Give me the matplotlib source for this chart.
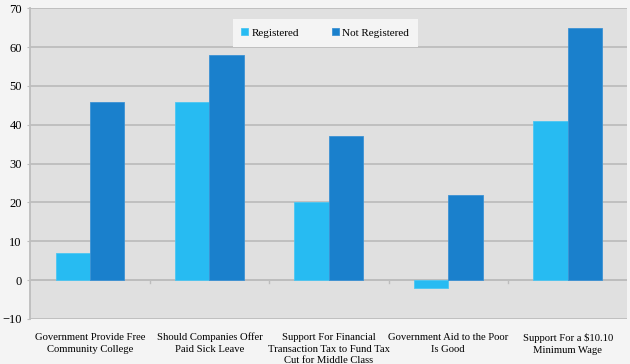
import numpy as np
import matplotlib
matplotlib.use("Agg")
import matplotlib.pyplot as plt

categories = ["Government Provide Free\nCommunity College",
              "Should Companies Offer\nPaid Sick Leave",
              "Support For Financial\nTransaction Tax to Fund Tax\nCut for Middle Class",
              "Government Aid to the Poor\nIs Good",
              "Support For a $10.10\nMinimum Wage"]
registered = [7, 46, 20, -2, 41]
not_registered = [46, 58, 37, 22, 65]
yticks = [-10, 0, 10, 20, 30, 40, 50, 60, 70]

plt.rcParams['font.family'] = ['Liberation Serif', 'DejaVu Serif']

fig = plt.figure(figsize=(6.3, 3.64), dpi=100, facecolor='#f4f4f4')
ax = fig.add_axes([0.048, 0.124, 0.948, 0.853])
ax.set_facecolor('#e0e0e0')

x = np.arange(len(categories))
w = 0.288
ax.bar(x - w / 2, registered, w, color='#27bbf2', edgecolor='#4cc6f2', linewidth=0.6,
       label='Registered', zorder=3)
ax.bar(x + w / 2, not_registered, w, color='#1a80cc', edgecolor='#3c92d4', linewidth=0.6,
       label='Not Registered', zorder=3)

ax.set_xlim(-0.5, len(categories) - 0.5)
ax.set_ylim(-10, 70)
ax.set_yticks(yticks)
ax.yaxis.grid(True, color='#bdbdbd', linewidth=1.3, zorder=1)
ax.tick_params(axis='y', length=2, color='#bdbdbd', labelsize=9, pad=4)

for s in ['top', 'right', 'bottom']:
    ax.spines[s].set_visible(False)
ax.spines['left'].set_color('#bdbdbd')
ax.spines['left'].set_linewidth(1.3)

# category labels under the plot, small ticks on the zero line
ax.set_xticks(x)
ax.set_xticklabels(categories, fontsize=7.7, linespacing=1.4)
ax.tick_params(axis='x', length=0, pad=10)
for b in np.arange(0.5, len(categories) - 0.5):
    ax.plot([b, b], [0, -0.8], color='#bdbdbd', lw=1, zorder=2)
ax.axhline(0, color='#bdbdbd', lw=1.3, zorder=2)

leg = ax.legend(loc='center', bbox_to_anchor=(0.494, 0.921), ncol=2, fontsize=8,
                frameon=True, facecolor='#f4f4f4', edgecolor='none', framealpha=1,
                handlelength=0.6, handleheight=0.6, handletextpad=0.3,
                columnspacing=3.0, borderpad=0.8, borderaxespad=0)
leg.get_frame().set_boxstyle('square', pad=0)

fig.savefig("out.png", dpi=100, facecolor=fig.get_facecolor())
